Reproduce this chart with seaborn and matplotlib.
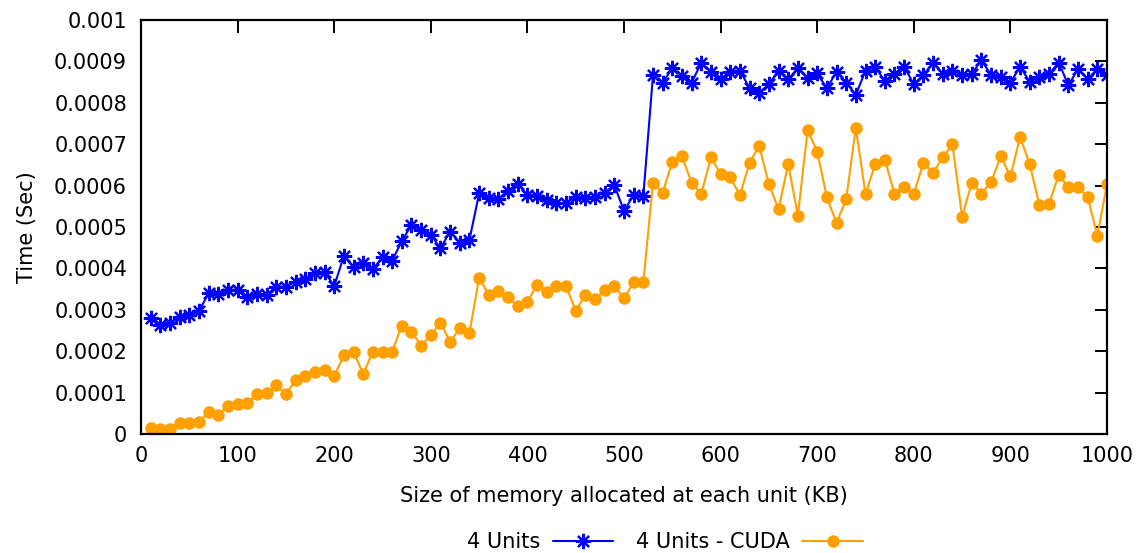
import matplotlib
matplotlib.use("Agg")
import matplotlib.pyplot as plt
import seaborn as sns
import pandas as pd
import numpy as np

sizes_kb = list(range(10, 1001, 10))

units4 = [
    0.000279, 0.000263, 0.000269, 0.000283, 0.000287, 0.000297, 0.000340, 0.000337, 0.000348, 0.000349,
    0.000330, 0.000338, 0.000336, 0.000356, 0.000356, 0.000368, 0.000374, 0.000390, 0.000392, 0.000357,
    0.000430, 0.000403, 0.000414, 0.000398, 0.000427, 0.000419, 0.000466, 0.000505, 0.000493, 0.000481,
    0.000449, 0.000489, 0.000462, 0.000469, 0.000581, 0.000569, 0.000567, 0.000588, 0.000604, 0.000577,
    0.000575, 0.000565, 0.000557, 0.000559, 0.000573, 0.000569, 0.000573, 0.000583, 0.000601, 0.000539,
    0.000577, 0.000575, 0.000867, 0.000849, 0.000883, 0.000865, 0.000849, 0.000896, 0.000875, 0.000857,
    0.000875, 0.000878, 0.000835, 0.000824, 0.000845, 0.000878, 0.000857, 0.000883, 0.000859, 0.000871,
    0.000835, 0.000875, 0.000849, 0.000819, 0.000878, 0.000886, 0.000853, 0.000870, 0.000887, 0.000845,
    0.000867, 0.000897, 0.000870, 0.000878, 0.000867, 0.000870, 0.000903, 0.000867, 0.000862, 0.000849,
    0.000887, 0.000851, 0.000863, 0.000870, 0.000897, 0.000843, 0.000881, 0.000857, 0.000881, 0.000867,
]

units4_cuda = [
    0.000014, 0.000013, 0.000013, 0.000027, 0.000027, 0.000028, 0.000054, 0.000047, 0.000068, 0.000072,
    0.000074, 0.000096, 0.000100, 0.000118, 0.000096, 0.000130, 0.000140, 0.000150, 0.000155, 0.000140,
    0.000190, 0.000199, 0.000145, 0.000199, 0.000199, 0.000199, 0.000262, 0.000247, 0.000213, 0.000239,
    0.000269, 0.000223, 0.000255, 0.000243, 0.000378, 0.000336, 0.000345, 0.000330, 0.000308, 0.000320,
    0.000360, 0.000344, 0.000357, 0.000357, 0.000298, 0.000336, 0.000326, 0.000348, 0.000357, 0.000328,
    0.000366, 0.000366, 0.000607, 0.000583, 0.000658, 0.000671, 0.000607, 0.000580, 0.000668, 0.000628,
    0.000620, 0.000577, 0.000655, 0.000696, 0.000603, 0.000543, 0.000652, 0.000527, 0.000734, 0.000682,
    0.000572, 0.000510, 0.000567, 0.000740, 0.000579, 0.000652, 0.000663, 0.000580, 0.000597, 0.000580,
    0.000655, 0.000631, 0.000668, 0.000700, 0.000525, 0.000607, 0.000580, 0.000609, 0.000671, 0.000622,
    0.000717, 0.000652, 0.000553, 0.000556, 0.000626, 0.000596, 0.000596, 0.000572, 0.000479, 0.000604,
]

x_ticks = list(range(0, 1001, 100))
y_ticks = [0, 0.0001, 0.0002, 0.0003, 0.0004, 0.0005, 0.0006, 0.0007, 0.0008, 0.0009, 0.001]
y_tick_labels = ["0", "0.0001", "0.0002", "0.0003", "0.0004", "0.0005",
                 "0.0006", "0.0007", "0.0008", "0.0009", "0.001"]

df1 = pd.DataFrame({"size": sizes_kb, "time": units4})
df2 = pd.DataFrame({"size": sizes_kb, "time": units4_cuda})

sns.set_theme(style="white")
plt.rcParams["font.family"] = ["DejaVu Sans"]
plt.rcParams["text.color"] = "black"
plt.rcParams["axes.labelcolor"] = "black"

fig = plt.figure(figsize=(11.37, 5.53), dpi=100)
W, H = 1137, 553
ax = fig.add_axes([141 / W, 1 - 434 / H, (1107 - 141) / W, (434 - 20) / H])

blue = "#0000ff"
orange = "#ffa000"

sns.lineplot(data=df1, x="size", y="time", ax=ax, color=blue, linewidth=1.5,
             marker=(8, 2, 0), markersize=11, markeredgewidth=1.6,
             markeredgecolor=blue, label="4 Units", legend=False)
sns.lineplot(data=df2, x="size", y="time", ax=ax, color=orange, linewidth=1.5,
             marker="o", markersize=9, markeredgewidth=0,
             markerfacecolor=orange, label="4 Units - CUDA", legend=False)

ax.set_xlim(0, 1000)
ax.set_ylim(0, 0.001)
ax.set_xticks(x_ticks)
ax.set_yticks(y_ticks)
ax.set_yticklabels(y_tick_labels)

for s in ax.spines.values():
    s.set_visible(True)
    s.set_linewidth(1.6)
    s.set_color("black")

ax.tick_params(axis="both", which="major", direction="in", length=9, width=1.4,
               top=True, right=True, labelsize=15, colors="black", labelcolor="black")
ax.tick_params(axis="y", pad=10)
ax.tick_params(axis="x", pad=9)

ax.set_xlabel("Size of memory allocated at each unit (KB)", fontsize=15, labelpad=14, color="black")
ax.set_ylabel("Time (Sec)", fontsize=15, labelpad=12, color="black")
ax.grid(False)

handles, labels = ax.get_legend_handles_labels()
fig.legend(handles, labels, loc="center", bbox_to_anchor=(665 / W, 1 - 542 / H),
           ncol=2, frameon=False, markerfirst=False, numpoints=1,
           handlelength=2.9, columnspacing=1.1, handletextpad=0.6, fontsize=15)

fig.savefig("out.png", dpi=100, facecolor="white")
